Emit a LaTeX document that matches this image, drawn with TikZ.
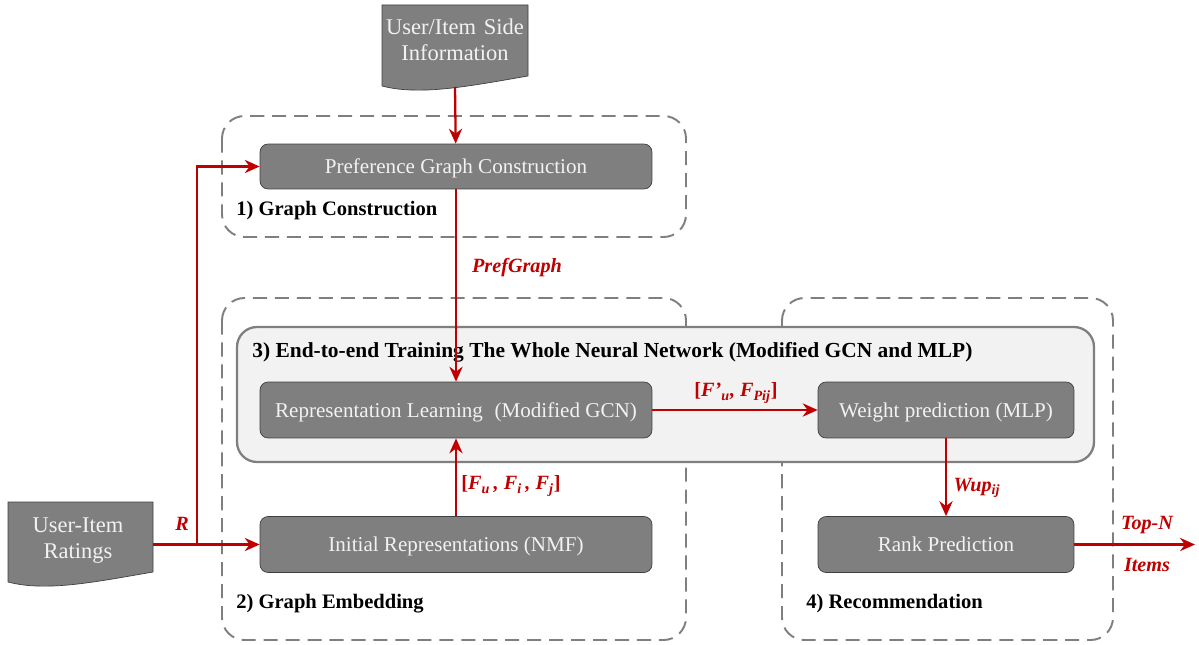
\documentclass[tikz,border=0pt]{standalone}
\usepackage{fontspec}
\setmainfont{Liberation Serif}
\usetikzlibrary{arrows.meta}
\definecolor{flowred}{HTML}{C00000}
\definecolor{boxgray}{HTML}{7F7F7F}
\definecolor{boxline}{HTML}{404040}
\definecolor{panel}{HTML}{F2F2F2}
\tikzstyle{stage}=[draw=boxgray, line width=1.1pt, dash pattern=on 8pt off 4.5pt, rounded corners=0.45cm]
\tikzstyle{panelbox}=[draw=boxgray, line width=1.3pt, fill=panel, rounded corners=0.4cm]
\tikzstyle{proc}=[rectangle, rounded corners=0.16cm, draw=boxline, fill=boxgray, text=panel, minimum width=7.84cm, minimum height=1.12cm, text depth=0pt, font=\fontsize{12}{14}\selectfont]
\tikzstyle{docshape}=[draw=boxline, fill=boxgray]
\tikzstyle{doctext}=[align=center, text=panel, font=\fontsize{12.8}{14.8}\selectfont]
\tikzstyle{caption}=[anchor=west, inner sep=0pt, font=\fontsize{11.7}{13}\selectfont\bfseries]
\tikzstyle{flow}=[-{Stealth[length=8.5pt,width=7.5pt]}, draw=flowred, line width=1.3pt]
\tikzstyle{flowlbl}=[text=flowred, font=\fontsize{11.5}{13}\selectfont\bfseries\itshape]

\begin{document}
\begin{tikzpicture}[x=0.02cm, y=-0.02cm]
				\useasboundingbox (0,0) rectangle (1199,645);
				
				%The stages
				\draw[stage] (222,116) rectangle (686,237);
				\draw[stage] (222,298) rectangle (686,640);
				\draw[stage] (782,298) rectangle (1113,640);
				\draw[panelbox] (237,327) rectangle (1094,462);
				
				%The inputs
				\draw[docshape] (382,5) -- (528,5) -- (528,76) .. controls (470,86) and (420,96) .. (382,86) -- cycle;
				\draw (455,40) node[doctext] (side) {User/Item\hspace{0.35em}Side\\Information};
				\draw[docshape] (8,502) -- (153,502) -- (153,572) .. controls (95,582) and (46,592) .. (8,582) -- cycle;
				\draw (78,541) node[doctext] (ratings) {User-Item\\Ratings};
				\coordinate (sideout) at (455,87);
				\coordinate (ratingsout) at (153,544.5);
				\coordinate (split) at (197,544.5);
				\coordinate (out) at (1195,544.5);
				
				%The steps
				\draw (456,166.5) node[proc, minimum height=0.9cm] (pref) {Preference Graph Construction};
				\draw (456,410) node[proc] (rep) {Representation Learning\hspace{0.3em} (Modified GCN)};
				\draw (946,410) node[proc, minimum width=5.12cm] (weight) {Weight prediction (MLP)};
				\draw (456,544.5) node[proc] (init) {Initial Representations (NMF)};
				\draw (946,544.5) node[proc, minimum width=5.12cm] (rank) {Rank Prediction};
				
				%The captions
				\draw (236,211) node[caption] (cap1) {1) Graph Construction};
				\draw (252,352) node[caption, font=\fontsize{12.2}{13}\selectfont\bfseries] (cap3) {3) End-to-end Training The Whole Neural Network (Modified GCN and MLP)};
				\draw (236,604) node[caption] (cap2) {2) Graph Embedding};
				\draw (806,604) node[caption] (cap4) {4) Recommendation};
				
				%The flows
				\draw[flow] (sideout) -- (pref);
				\draw[flow] (pref) -- (rep);
				\draw[flow] (ratingsout) -- (init);
				\draw[flow] (split) |- (pref);
				\draw[flow] (init) -- (rep);
				\draw[flow] (rep) -- (weight);
				\draw[flow] (weight) -- (rank);
				\draw[flow] (rank) -- (out);
				
				%The flow labels
				\draw (517,268) node[flowlbl] (lblpref) {PrefGraph};
				\draw (182,524) node[flowlbl] (lblr) {R};
				\draw (511,486) node[flowlbl] (lblfeat) {{\upshape[}F\textsubscript{u}\,, F\textsubscript{i}\,, F\textsubscript{j}{\upshape]}};
				\draw (736,393) node[flowlbl] (lblemb) {{\upshape[}F'\textsubscript{u}, F\textsubscript{Pij}{\upshape]}};
				\draw (977,488) node[flowlbl] (lblwup) {Wup\textsubscript{ij}};
				\draw (1147,525) node[flowlbl] (lbltop) {Top-N};
				\draw (1147,565) node[flowlbl] (lblitems) {Items};
			\end{tikzpicture}
\end{document}
